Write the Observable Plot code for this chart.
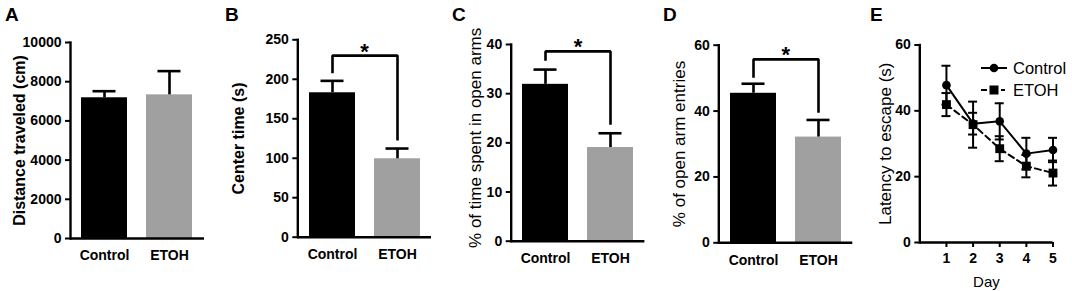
<!DOCTYPE html>
<html><head><meta charset="utf-8">
<script src="https://cdn.jsdelivr.net/npm/d3@7"></script>
<script src="https://cdn.jsdelivr.net/npm/@observablehq/plot@0.6"></script>
<style>
body{margin:0;background:#fff;}
#fig{position:relative;width:1072px;height:291px;overflow:hidden;font-family:"Liberation Sans",Arial,Helvetica,sans-serif;background:#fff;}
.panel{position:absolute;top:0;}
#overlay{position:absolute;left:0;top:0;pointer-events:none;}
</style></head><body><div id="fig"></div>
<script>
// ---- data ----
const groups = ["Control", "ETOH"];
const distanceMean = [7180, 7330];
const distanceSem = [335, 1210];
const centerMean = [182.9, 99.3];
const centerSem = [15.1, 13.0];
const openTimeMean = [31.9, 19.05];
const openTimeSem = [3.0, 2.9];
const openEntryMean = [45.4, 32.1];
const openEntrySem = [2.9, 5.2];
const bracketB = [207.7, 230, 122.5];
const bracketC = [36.7, 38.6, 23.7];
const bracketD = [50.1, 55.7, 39.5];
const days = [1, 2, 3, 4, 5];
const controlLatency = [47.8, 36.1, 36.8, 27.0, 28.1];
const controlSem = [5.9, 3.3, 5.5, 4.8, 3.7];
const etohLatency = [41.9, 35.8, 28.5, 23.2, 21.1];
const etohSem = [3.5, 7.0, 3.8, 3.4, 3.8];
const ticksA = [0, 2000, 4000, 6000, 8000, 10000];
const ticksB = [0, 50, 100, 150, 200, 250];
const ticksC = [0, 10, 20, 30, 40];
const ticksD = [0, 20, 40, 60];
const ticksE = [0, 20, 40, 60];
const panelLetters = ["A", "B", "C", "D", "E"];

const FONT = '"Liberation Sans", Arial, Helvetica, sans-serif';
const GREY = "#a0a0a0";
const fig = document.getElementById("fig");

function place(svg, left) {
  svg.classList.add("panel");
  svg.style.left = left + "px";
  fig.appendChild(svg);
}

function barPanel(cfg) {
  const data = groups.map((g, i) => ({g, m: cfg.means[i], hi: cfg.means[i] + cfg.sems[i]}));
  const marks = [
    Plot.barY(data, {x: "g", y: "m", fill: "g"}),
    Plot.ruleX(data, {x: "g", y1: "m", y2: "hi", stroke: "#000", strokeWidth: 2.6}),
    Plot.tickY(data, {x: "g", y: "hi", stroke: "#000", strokeWidth: 2.6, inset: 11.5}),
    Plot.ruleY([0], {strokeWidth: 2.4}),
    Plot.frame({anchor: "left", strokeWidth: 2.4}),
    Plot.axisY({ticks: cfg.ticks, tickSize: 5, tickPadding: 4, strokeWidth: 2, fontWeight: "bold", fontSize: 14, label: null, tickFormat: d => String(d)}),
    Plot.axisX({tickSize: 0, tickPadding: 12, fontWeight: "bold", fontSize: 14, label: null}),
    Plot.text([cfg.label], {text: d => d, frameAnchor: "left", textAnchor: "middle", rotate: -90, lineAnchor: "top", dx: cfg.labelDx, dy: cfg.labelDy || 0, fontSize: cfg.labelSize, fontWeight: cfg.labelWeight, fill: "#000"})
  ];
  if (cfg.bracket) {
    const br = cfg.bracket;
    const bd = [{g: groups[0], v: br[0]}, {g: groups[0], v: br[1]}, {g: groups[1], v: br[1]}, {g: groups[1], v: br[2]}];
    marks.push(Plot.line(bd, {x: "g", y: "v", stroke: "#000", strokeWidth: 2.6, strokeLinejoin: "miter", strokeLinecap: "butt"}));
    marks.push(Plot.text([{v: br[1]}], {y: "v", text: () => "*", frameAnchor: "middle", lineAnchor: "bottom", dy: 3, fontSize: 22, fontWeight: "bold", fill: "#000"}));
  }
  return Plot.plot({
    width: cfg.width, height: 291,
    marginLeft: cfg.ml, marginRight: cfg.mr, marginTop: cfg.mt, marginBottom: cfg.mb,
    style: {fontFamily: FONT, color: "#000", background: "transparent", overflow: "visible"},
    x: {domain: groups, paddingInner: 0.29, paddingOuter: 0.168, axis: null},
    y: {domain: cfg.domain, axis: null},
    color: {domain: groups, range: ["#000000", GREY]},
    marks
  });
}

place(barPanel({means: distanceMean, sems: distanceSem, domain: [0, 10000], ticks: ticksA,
  label: "Distance traveled (cm)", labelDx: -57, labelSize: 16, labelWeight: "bold",
  width: 215, ml: 70, mr: 11, mt: 42, mb: 53}), 0);
place(barPanel({means: centerMean, sems: centerSem, domain: [0, 250], ticks: ticksB, bracket: bracketB,
  label: "Center time (s)", labelDx: -65.3, labelSize: 16, labelWeight: "bold",
  width: 221, ml: 82.3, mr: 5, mt: 39.3, mb: 54.3}), 215);
place(barPanel({means: openTimeMean, sems: openTimeSem, domain: [0, 40], ticks: ticksC, bracket: bracketC,
  label: "% of time spent in open arms", labelDx: -42.7, labelDy: -5, labelSize: 17, labelWeight: "normal",
  width: 214, ml: 74.7, mr: 5.6, mt: 44, mb: 50.3}), 436);
place(barPanel({means: openEntryMean, sems: openEntrySem, domain: [0, 60], ticks: ticksD, bracket: bracketD,
  label: "% of open arm entries", labelDx: -46.3, labelSize: 17, labelWeight: "normal",
  width: 210, ml: 68.3, mr: 7.7, mt: 44.7, mb: 48.7}), 650);

// ---- panel E ----
const ctl = days.map((d, i) => ({day: d, v: controlLatency[i], lo: controlLatency[i] - controlSem[i], hi: controlLatency[i] + controlSem[i]}));
const eto = days.map((d, i) => ({day: d, v: etohLatency[i], lo: etohLatency[i] - etohSem[i], hi: etohLatency[i] + etohSem[i]}));
function errMarks(data) {
  return [
    Plot.ruleX(data, {x: "day", y1: "lo", y2: "hi", stroke: "#000", strokeWidth: 2}),
    Plot.ruleY(data, {y: "hi", x1: "day", x2: "day", insetLeft: -4.5, insetRight: -4.5, stroke: "#000", strokeWidth: 2}),
    Plot.ruleY(data, {y: "lo", x1: "day", x2: "day", insetLeft: -4.5, insetRight: -4.5, stroke: "#000", strokeWidth: 2})
  ];
}
const plotE = Plot.plot({
  width: 212, height: 291,
  marginLeft: 59.3, marginRight: 19.5, marginTop: 44.5, marginBottom: 49,
  style: {fontFamily: FONT, color: "#000", background: "transparent", overflow: "visible"},
  x: {domain: [0, 5], axis: null},
  y: {domain: [0, 60], axis: null},
  marks: [
    ...errMarks(eto),
    ...errMarks(ctl),
    Plot.line(eto, {x: "day", y: "v", stroke: "#000", strokeWidth: 2, strokeDasharray: "6,4"}),
    Plot.line(ctl, {x: "day", y: "v", stroke: "#000", strokeWidth: 2}),
    Plot.dot(eto, {x: "day", y: "v", symbol: "square", r: 5, fill: "#000", stroke: "none"}),
    Plot.dot(ctl, {x: "day", y: "v", symbol: "circle", r: 4.3, fill: "#000", stroke: "none"}),
    Plot.ruleY([0], {strokeWidth: 2.4}),
    Plot.frame({anchor: "left", strokeWidth: 2.4}),
    Plot.axisY({ticks: ticksE, tickSize: 5, tickPadding: 4, strokeWidth: 2, fontWeight: "bold", fontSize: 14, label: null, tickFormat: d => String(d)}),
    Plot.axisX({ticks: days, tickSize: 5, tickPadding: 6, strokeWidth: 2, fontWeight: "bold", fontSize: 14, label: null, tickFormat: d => String(d)}),
    Plot.text(["Latency to escape (s)"], {text: d => d, frameAnchor: "left", textAnchor: "middle", rotate: -90, lineAnchor: "top", dx: -41.3, fontSize: 17, fill: "#000"}),
    Plot.text(["Day"], {text: d => d, frameAnchor: "bottom", lineAnchor: "bottom", dy: 44, fontSize: 15, fill: "#000"})
  ]
});
place(plotE, 860);

// ---- overlay: panel letters and legend ----
const ns = "http://www.w3.org/2000/svg";
const ov = document.createElementNS(ns, "svg");
ov.setAttribute("id", "overlay");
ov.setAttribute("width", 1072);
ov.setAttribute("height", 291);
ov.style.fontFamily = FONT;
const letterX = [5, 225, 452, 663, 870];
panelLetters.forEach((L, i) => {
  const t = document.createElementNS(ns, "text");
  t.setAttribute("x", letterX[i]);
  t.setAttribute("y", 21);
  t.setAttribute("font-size", 19);
  t.setAttribute("font-weight", "bold");
  t.textContent = L;
  ov.appendChild(t);
});
function el(tag, attrs) {
  const e = document.createElementNS(ns, tag);
  for (const k in attrs) e.setAttribute(k, attrs[k]);
  ov.appendChild(e);
  return e;
}
// legend: Control
el("line", {x1: 981, x2: 1007, y1: 68, y2: 68, stroke: "#000", "stroke-width": 2});
el("circle", {cx: 994, cy: 68, r: 4.3, fill: "#000"});
el("text", {x: 1013, y: 74, "font-size": 16.5}).textContent = groups[0];
// legend: ETOH
el("line", {x1: 981, x2: 987, y1: 90, y2: 90, stroke: "#000", "stroke-width": 2});
el("rect", {x: 989.5, y: 85.5, width: 9, height: 9, fill: "#000"});
el("line", {x1: 1001, x2: 1005, y1: 90, y2: 90, stroke: "#000", "stroke-width": 2});
el("text", {x: 1013, y: 96, "font-size": 16.5}).textContent = groups[1];
fig.appendChild(ov);
</script>
</body></html>
